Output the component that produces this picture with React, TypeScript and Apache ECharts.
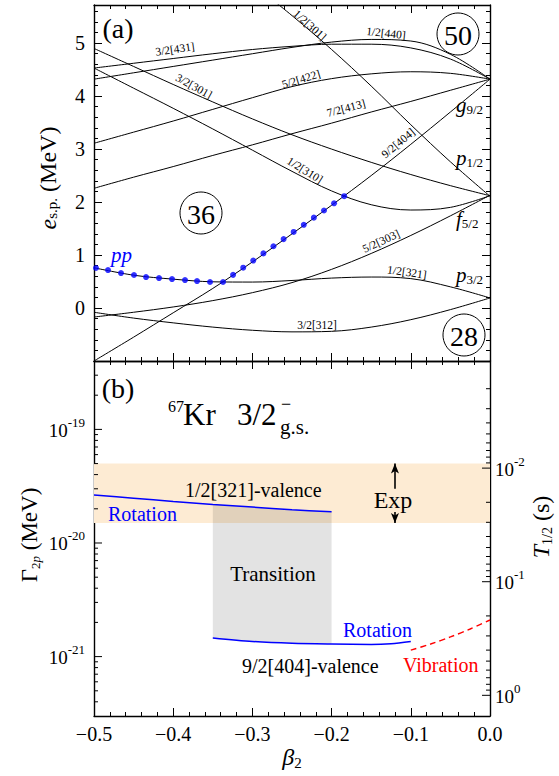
import React, { useEffect, useRef } from "react";
import * as echarts from "echarts";

// ---------------- Panel (a): Nilsson single-particle levels ----------------
const BETA = [-0.5, -0.45, -0.4, -0.35, -0.3, -0.25, -0.2, -0.15, -0.1, -0.05, 0];
const E_3_2_431 = [4.53, 4.62, 4.71, 4.8, 4.88, 4.94, 4.98, 4.98, 4.91, 4.7, 4.32];
const E_1_2_440 = [4.32, 4.44, 4.56, 4.68, 4.8, 4.92, 5.02, 5.07, 5.04, 4.79, 4.32];
const E_3_2_301 = [4.9, 4.56, 4.22, 3.89, 3.57, 3.27, 3.0, 2.75, 2.52, 2.31, 2.12];
const E_5_2_422 = [3.11, 3.32, 3.53, 3.75, 3.97, 4.18, 4.33, 4.42, 4.46, 4.43, 4.32];
const E_7_2_413 = [2.26, 2.47, 2.67, 2.88, 3.08, 3.29, 3.49, 3.7, 3.9, 4.11, 4.32];
const E_1_2_310 = [4.53, 4.15, 3.77, 3.38, 2.98, 2.58, 2.21, 1.95, 1.85, 1.9, 2.12];
const E_5_2_303 = [-0.17, -0.08, 0.02, 0.14, 0.29, 0.48, 0.73, 1.03, 1.37, 1.74, 2.13];
const E_1_2_321 = [0.76, 0.62, 0.545, 0.495, 0.49, 0.52, 0.565, 0.585, 0.555, 0.4, 0.19];
const E_3_2_312 = [-0.08, -0.19, -0.28, -0.36, -0.42, -0.45, -0.44, -0.36, -0.22, -0.03, 0.19];
const E_9_2_404 = [-1.0, -0.55, -0.09, 0.37, 0.87, 1.4, 1.94, 2.5, 3.09, 3.7, 4.32];
const BETA_1_2_301 = [-0.3, -0.25, -0.2, -0.15, -0.1, -0.05, 0];
const E_1_2_301 = [6.12, 5.52, 4.88, 4.19, 3.46, 2.76, 2.11];

const PP_BETA = [-0.4975, -0.4823, -0.4659, -0.4495, -0.4343, -0.4179, -0.4015, -0.3851, -0.3699, -0.3535, -0.3371,
  -0.3244, -0.3116, -0.2989, -0.2861, -0.2734, -0.2606, -0.2479, -0.2351, -0.2224, -0.2096, -0.1969, -0.1841];
const PP_E = [0.755, 0.717, 0.66, 0.623, 0.585, 0.566, 0.547, 0.528, 0.509, 0.491, 0.491,
  0.626, 0.761, 0.896, 1.031, 1.166, 1.301, 1.436, 1.571, 1.706, 1.841, 1.976, 2.111];

const E_AXIS_MIN = -1;
const E_AXIS_MAX = 5.72;
const BETA_MIN = -0.5;
const BETA_MAX = 0;

// ---------------- Panel (b): two-proton decay width ----------------
const ROT1_BETA = [-0.5, -0.45, -0.4, -0.35, -0.3, -0.25, -0.2];
const ROT1_GAMMA = [2.64e-20, 2.48e-20, 2.32e-20, 2.18e-20, 2.07e-20, 1.96e-20, 1.88e-20];
const ROT2_BETA = [-0.35, -0.3, -0.25, -0.2, -0.15, -0.125, -0.1];
const ROT2_GAMMA = [1.46e-21, 1.36e-21, 1.31e-21, 1.29e-21, 1.28e-21, 1.3e-21, 1.36e-21];
const VIB_BETA = [-0.1, -0.075, -0.05, -0.025, 0];
const VIB_GAMMA = [1.14e-21, 1.29e-21, 1.49e-21, 1.75e-21, 2.1e-21];
const EXP_GAMMA = [1.5e-20, 5.0e-20];
const EXP_ARROW_BETA = -0.12;
const EXP_ARROW_FROM = [1.87e-20, 3.0e-20];
const TRANSITION_BETA = [-0.35, -0.2];
const GAMMA_RANGE = [3e-22, 4e-19];
const GAMMA_MAJOR_EXP = [-21, -20, -19];
const T_MAJOR_EXP = [-2, -1, 0];
const HBAR = 6.582119569e-22; // MeV s

const FONT = "'Liberation Serif','Times New Roman',Times,serif";
const lg = Math.log10;
const C_T = lg(HBAR * Math.LN2);
const GMIN = lg(GAMMA_RANGE[0]);
const GMAX = lg(GAMMA_RANGE[1]);
const ZG = 100;

let _ctx: CanvasRenderingContext2D | null = null;
function tw(t: string, size: number, italic = false): number {
  if (!_ctx) _ctx = document.createElement("canvas").getContext("2d");
  _ctx!.font = `${italic ? "italic " : ""}${size}px ${FONT}`;
  return _ctx!.measureText(t).width;
}

type Part = { t: string; s: number; i?: boolean; dy?: number; c?: string };
function seq(parts: Part[], x: number, y: number, align: "left" | "center" | "right" = "left", rot = 0) {
  const widths = parts.map((p) => tw(p.t, p.s, p.i));
  const total = widths.reduce((a, b) => a + b, 0);
  let cur = align === "center" ? -total / 2 : align === "right" ? -total : 0;
  const children = parts.map((p, k) => {
    const el = {
      type: "text", z: ZG,
      x: cur,
      y: p.dy || 0,
      style: {
        text: p.t, fontSize: p.s, fontFamily: FONT, fontStyle: p.i ? "italic" : "normal",
        fill: p.c || "#000", align: "left", verticalAlign: "middle",
      },
    };
    cur += widths[k];
    return el;
  });
  return { type: "group", x, y, rotation: rot, children, silent: true, z: ZG };
}

function txt(t: string, x: number, y: number, size: number, opts: any = {}) {
  return {
    type: "text", x, y, z: ZG, rotation: ((opts.rot || 0) * -Math.PI) / 180, silent: true,
    style: {
      text: t, fontSize: size, fontFamily: FONT, fontStyle: opts.italic ? "italic" : "normal",
      fill: opts.color || "#000", align: opts.align || "center", verticalAlign: "middle",
    },
  };
}

const ORBITALS: [number[], number[]][] = [
  [BETA, E_3_2_431], [BETA, E_1_2_440], [BETA, E_3_2_301], [BETA, E_5_2_422], [BETA, E_7_2_413],
  [BETA, E_1_2_310], [BETA, E_5_2_303], [BETA, E_1_2_321], [BETA, E_3_2_312], [BETA, E_9_2_404],
  [BETA_1_2_301, E_1_2_301],
];

const ORBITAL_LABELS = [
  { t: "3/2[431]", x: 175, y: 49, r: -8 },
  { t: "3/2[301]", x: 194, y: 86, r: 29 },
  { t: "1/2[301]", x: 310, y: 25, r: 42 },
  { t: "1/2[440]", x: 386, y: 33, r: 6 },
  { t: "5/2[422]", x: 301, y: 79, r: -17 },
  { t: "7/2[413]", x: 346, y: 108, r: -15 },
  { t: "9/2[404]", x: 398, y: 143, r: -40 },
  { t: "1/2[310]", x: 305, y: 170, r: 32 },
  { t: "5/2[303]", x: 381, y: 241, r: -25 },
  { t: "1/2[321]", x: 407, y: 272, r: 8 },
  { t: "3/2[312]", x: 317, y: 325, r: 0 },
];

function logTicks() {
  const ticks: { side: "L" | "R"; v: number; len: number; exp?: string }[] = [];
  const inside = (v: number) => v > GMIN + 1e-4 && v < GMAX - 1e-4;
  for (let n = Math.floor(GMIN); n <= Math.ceil(GMAX); n++) {
    for (let k = 2; k <= 9; k++) {
      const v = n + lg(k);
      if (inside(v)) ticks.push({ side: "L", v, len: 4 });
    }
  }
  GAMMA_MAJOR_EXP.forEach((e) => ticks.push({ side: "L", v: e, len: 8, exp: String(e) }));
  const tMin = C_T - GMAX, tMax = C_T - GMIN;
  for (let n = Math.floor(tMin); n <= Math.ceil(tMax); n++) {
    for (let k = 2; k <= 9; k++) {
      const lt = n + lg(k);
      if (lt > tMin && lt < tMax) ticks.push({ side: "R", v: C_T - lt, len: 4 });
    }
  }
  T_MAJOR_EXP.forEach((e) => ticks.push({ side: "R", v: C_T - e, len: 8, exp: String(e) }));
  return ticks;
}

function buildOption(): any {
  const axisLine = { show: true, onZero: false, lineStyle: { color: "#000", width: 1.4 } };
  const tickStyle = { color: "#000", width: 1 };
  const xBase = (grid: number, pos: string, labels: boolean) => ({
    type: "value", gridIndex: grid, position: pos, min: BETA_MIN, max: BETA_MAX, interval: 0.1,
    axisLine, splitLine: { show: false },
    axisTick: { show: true, inside: true, length: 8, lineStyle: tickStyle },
    minorTick: { show: true, splitNumber: 5, length: 4, lineStyle: tickStyle },
    axisLabel: labels
      ? {
          show: true, margin: 8, fontFamily: FONT, fontSize: 20, color: "#000",
          formatter: (v: number) => (v < -1e-9 ? "\u2212" : "") + Math.abs(v).toFixed(1),
        }
      : { show: false },
  });
  const yA = (pos: string, major: boolean, labels: boolean) => ({
    type: "value", gridIndex: 0, position: pos, min: E_AXIS_MIN, max: E_AXIS_MAX,
    interval: major ? 1 : 0.2,
    axisLine: major ? axisLine : { show: false, onZero: false },
    splitLine: { show: false },
    axisTick: { show: true, inside: true, length: major ? 8 : 4, lineStyle: tickStyle },
    axisLabel: labels
      ? { show: true, margin: 9, fontFamily: FONT, fontSize: 20, color: "#000", showMinLabel: false, showMaxLabel: false }
      : { show: false },
  });
  const yB = (pos: string) => ({
    type: "value", gridIndex: 1, position: pos, min: GMIN, max: GMAX,
    axisLine, splitLine: { show: false }, axisTick: { show: false }, axisLabel: { show: false },
  });

  const series: any[] = [];
  ORBITALS.forEach(([bx, ey]) => {
    series.push({
      type: "line", xAxisIndex: 0, yAxisIndex: 0, data: bx.map((b, i) => [b, ey[i]]),
      showSymbol: false, smooth: 0.35, silent: true, z: 2,
      lineStyle: { color: "#000", width: 1 },
    });
  });
  series.push({
    type: "scatter", xAxisIndex: 0, yAxisIndex: 0, data: PP_BETA.map((b, i) => [b, PP_E[i]]),
    symbolSize: 6, itemStyle: { color: "#0000ff" }, silent: true, z: 4,
  });

  // Panel (b)
  series.push({
    type: "custom", xAxisIndex: 2, yAxisIndex: 4, silent: true, z: 1,
    data: [[lg(EXP_GAMMA[0]), lg(EXP_GAMMA[1])]],
    renderItem: (_p: any, api: any) => {
      const a = api.coord([BETA_MIN, api.value(1)]);
      const b = api.coord([BETA_MAX, api.value(0)]);
      return { type: "rect", shape: { x: a[0], y: a[1], width: b[0] - a[0], height: b[1] - a[1] }, style: { fill: "#fdebd3" } };
    },
  });
  const inRange = (b: number) => b >= TRANSITION_BETA[0] - 1e-9 && b <= TRANSITION_BETA[1] + 1e-9;
  const upper = ROT1_BETA.map((b, i) => [b, lg(ROT1_GAMMA[i])]).filter((p) => inRange(p[0]));
  const lower = ROT2_BETA.map((b, i) => [b, lg(ROT2_GAMMA[i])]).filter((p) => inRange(p[0]));
  const poly = upper.concat(lower.slice().reverse());
  series.push({
    type: "custom", xAxisIndex: 2, yAxisIndex: 4, silent: true, z: 2,
    data: [0],
    renderItem: (_p: any, api: any) => ({
      type: "polygon", shape: { points: poly.map((p) => api.coord(p)) }, style: { fill: "rgba(0,0,0,0.11)" },
    }),
  });
  series.push({
    type: "line", xAxisIndex: 2, yAxisIndex: 4, data: ROT1_BETA.map((b, i) => [b, lg(ROT1_GAMMA[i])]),
    showSymbol: false, smooth: 0.3, silent: true, z: 3, lineStyle: { color: "#0000ff", width: 1.5 },
    markLine: {
      silent: true, symbol: ["none", "arrow"], symbolSize: [6, 10], label: { show: false },
      lineStyle: { color: "#000", width: 1.6, type: "solid" }, animation: false,
      data: [
        [{ coord: [EXP_ARROW_BETA, lg(EXP_ARROW_FROM[1])] }, { coord: [EXP_ARROW_BETA, lg(EXP_GAMMA[1])] }],
        [{ coord: [EXP_ARROW_BETA, lg(EXP_ARROW_FROM[0])] }, { coord: [EXP_ARROW_BETA, lg(EXP_GAMMA[0])] }],
      ],
    },
  });
  series.push({
    type: "line", xAxisIndex: 2, yAxisIndex: 4, data: ROT2_BETA.map((b, i) => [b, lg(ROT2_GAMMA[i])]),
    showSymbol: false, smooth: 0.3, silent: true, z: 3, lineStyle: { color: "#0000ff", width: 1.5 },
  });
  series.push({
    type: "line", xAxisIndex: 2, yAxisIndex: 4, data: VIB_BETA.map((b, i) => [b, lg(VIB_GAMMA[i])]),
    showSymbol: false, smooth: 0.3, silent: true, z: 3, lineStyle: { color: "#ff0000", width: 1.4, type: [6, 4] },
  });
  const TICKS = logTicks();
  series.push({
    type: "custom", xAxisIndex: 2, yAxisIndex: 4, silent: true, z: 10, clip: false,
    data: TICKS.map((d) => [d.side === "L" ? BETA_MIN : BETA_MAX, d.v]),
    renderItem: (params: any, api: any) => {
      const d = TICKS[params.dataIndex];
      const p = api.coord([api.value(0), api.value(1)]);
      const dir = d.side === "L" ? 1 : -1;
      const children: any[] = [
        { type: "line", shape: { x1: p[0], y1: p[1], x2: p[0] + dir * d.len, y2: p[1] }, style: { stroke: "#000", lineWidth: 1 } },
      ];
      if (d.exp !== undefined) {
        const bs = 19, es = 13;
        const ew = tw(d.exp, es), bw = tw("10", bs);
        const base = { fontFamily: FONT, fill: "#000", verticalAlign: "middle", align: "left" };
        const x0 = d.side === "L" ? p[0] - 9 - ew - bw : p[0] + 5;
        children.push({ type: "text", style: { ...base, text: "10", fontSize: bs, x: x0, y: p[1] + 1 } });
        children.push({ type: "text", style: { ...base, text: d.exp, fontSize: es, x: x0 + bw, y: p[1] - 7 } });
      }
      return { type: "group", children };
    },
  });

  const graphic: any[] = [];
  ORBITAL_LABELS.forEach((l) => graphic.push(txt(l.t, l.x, l.y, 11.5, { rot: l.r })));
  [["50", 458, 34], ["36", 201, 213], ["28", 464, 335]].forEach(([t, x, y]: any) => {
    graphic.push({ type: "circle", silent: true, z: ZG, shape: { cx: x, cy: y, r: 21 }, style: { fill: "none", stroke: "#000", lineWidth: 1 } });
    graphic.push(txt(t, x, y + 1, 28));
  });
  [["g", "9/2", 105], ["p", "1/2", 158], ["f", "5/2", 219], ["p", "3/2", 275]].forEach(([a, b, y]: any) => {
    graphic.push(seq([{ t: a, s: 21, i: true }, { t: b, s: 13, dy: 4 }], 456, y, "left"));
  });
  graphic.push(txt("(a)", 118, 28, 28));
  graphic.push(txt("(b)", 118, 388, 28));
  graphic.push(seq([{ t: "pp", s: 21, i: true, c: "#0000ff" }], 111, 255, "left"));
  graphic.push(seq([{ t: "e", s: 24, i: true }, { t: "s.p.", s: 15, dy: 4 }, { t: " (MeV)", s: 24 }], 48, 178, "center", Math.PI / 2));
  // panel (b) texts
  graphic.push(txt("67", 168, 406, 16, { align: "left" }));
  graphic.push(txt("Kr", 183, 414, 31, { align: "left" }));
  graphic.push(txt("3/2", 237, 414, 31, { align: "left" }));
  graphic.push(txt("\u2212", 281, 404, 18, { align: "left" }));
  graphic.push(txt("g.s.", 280, 427, 21, { align: "left" }));
  graphic.push(txt("1/2[321]-valence", 185, 490, 20, { align: "left" }));
  graphic.push(txt("Rotation", 108, 514, 20, { align: "left", color: "#0000ff" }));
  graphic.push(txt("Exp", 393, 500, 24));
  graphic.push(txt("Transition", 273, 574, 21));
  graphic.push(txt("Rotation", 343, 630, 20, { align: "left", color: "#0000ff" }));
  graphic.push(txt("9/2[404]-valence", 242, 666, 20, { align: "left" }));
  graphic.push(txt("Vibration", 403, 665, 20, { align: "left", color: "#ff0000" }));
  graphic.push(seq([{ t: "\u0393", s: 23 }, { t: "2", s: 13, dy: 6 }, { t: "p", s: 13, i: true, dy: 6 }, { t: " (MeV)", s: 23 }], 29, 535, "center", Math.PI / 2));
  graphic.push(seq([{ t: "T", s: 24, i: true }, { t: "1/2", s: 14, dy: 6 }, { t: " (s)", s: 24 }], 541, 527, "center", Math.PI / 2));
  graphic.push(seq([{ t: "\u03b2", s: 24, i: true }, { t: "2", s: 15, dy: 6 }], 292, 757, "center"));

  return {
    animation: false,
    backgroundColor: "#fff",
    grid: [
      { left: 94, top: 5, width: 396, height: 356 },
      { left: 94, top: 361, width: 396, height: 355 },
    ],
    xAxis: [xBase(0, "bottom", false), xBase(0, "top", false), xBase(1, "bottom", true), xBase(1, "top", false)],
    yAxis: [yA("left", true, true), yA("left", false, false), yA("right", true, false), yA("right", false, false), yB("left"), yB("right")],
    series,
    graphic,
  };
}

export default function App() {
  const ref = useRef<HTMLDivElement>(null);
  useEffect(() => {
    document.body.style.margin = "0";
    const chart = echarts.init(ref.current!, null, { renderer: "svg" });
    chart.setOption(buildOption());
    return () => chart.dispose();
  }, []);
  return <div ref={ref} style={{ width: 559, height: 776 }} />;
}
